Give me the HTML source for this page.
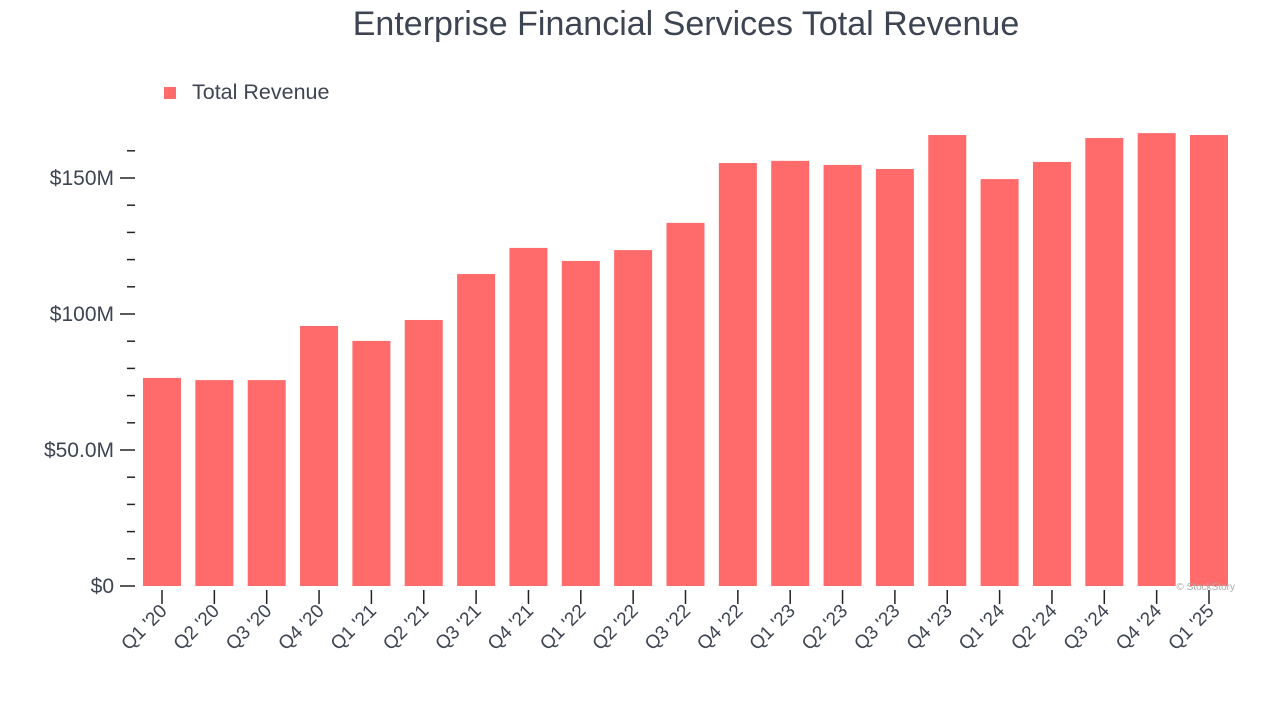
<!DOCTYPE html>
<html><head><meta charset="utf-8"><style>
body{margin:0;background:#fff;}
svg text{font-family:"Liberation Sans",sans-serif;}
</style></head><body>
<svg id="c" width="1280" height="720" viewBox="0 0 1280 720">
<text x="686" y="35" text-anchor="middle" font-size="34" fill="#3d4452">Enterprise Financial Services Total Revenue</text>
<g>
<rect x="164" y="87" width="12" height="12" fill="#ff6b6b"/>
<text x="192" y="99" font-size="21.5" fill="#3d4452">Total Revenue</text>
</g>
<g id="axes"></g><g id="bars"></g>
<text x="1235" y="590" text-anchor="end" font-size="10" fill="#aaa">© StockStory</text>
</svg>
<script>
const categories=["Q1 '20","Q2 '20","Q3 '20","Q4 '20","Q1 '21","Q2 '21","Q3 '21","Q4 '21","Q1 '22","Q2 '22","Q3 '22","Q4 '22","Q1 '23","Q2 '23","Q3 '23","Q4 '23","Q1 '24","Q2 '24","Q3 '24","Q4 '24","Q1 '25"];
const revenue=[76.5,75.7,75.7,95.6,90.1,97.8,114.7,124.3,119.5,123.5,133.5,155.5,156.3,154.8,153.3,165.8,149.6,155.9,164.7,166.5,165.8];
const tickValues=[0,50,100,150];
const tickLabels=["$0","$50.0M","$100M","$150M"];
const NS="http://www.w3.org/2000/svg";
const y=v=>586-v*2.72;
const x=i=>162+i*52.35;
function mk(t,a,p){const e=document.createElementNS(NS,t);for(const k in a)e.setAttribute(k,a[k]);p.appendChild(e);return e;}
const ax=document.getElementById('axes'),bg=document.getElementById('bars');
for(let v=0;v<=160;v+=10){
 const l=mk('line',{x1:tickValues.includes(v)?120:127,x2:135,y1:y(v),y2:y(v),stroke:'#222','stroke-width':1.5},ax);
 
 
}
tickValues.forEach((v,i)=>{
 const t=mk('text',{x:114,y:y(v)+7,'text-anchor':'end','font-size':21,fill:'#3d4452'},ax);
 t.textContent=tickLabels[i];
 
 
});
categories.forEach((c,i)=>{
 const r=mk('rect',{x:x(i)-19,y:y(revenue[i]),width:38,height:y(0)-y(revenue[i]),fill:'#ff6b6b'},bg);
 
 
 const tk=mk('line',{x1:x(i),x2:x(i),y1:590,y2:604,stroke:'#222','stroke-width':1.5},ax);
 
 
 const t=mk('text',{x:x(i)+6,y:612,'text-anchor':'end','font-size':19,fill:'#3d4452',transform:`rotate(-45 ${x(i)+6} 612)`},ax);
 t.textContent=c;
 
 
});
</script>
</body></html>
